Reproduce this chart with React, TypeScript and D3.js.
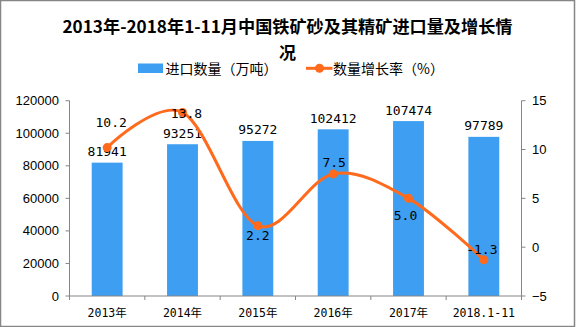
import React from "react";
import * as d3 from "d3";

const categories = ["2013年", "2014年", "2015年", "2016年", "2017年", "2018.1-11"];
const importVolume = [81941, 93251, 95272, 102412, 107474, 97789];
const growthRate = [10.2, 13.8, 2.2, 7.5, 5.0, -1.3];
const leftTicks = [0, 20000, 40000, 60000, 80000, 100000, 120000];
const rightTicks = [-5, 0, 5, 10, 15];
const titleLines = ["2013年-2018年1-11月中国铁矿砂及其精矿进口量及增长情", "况"];
const legendLabels = ["进口数量（万吨）", "数量增长率（%）"];
// label offsets (dx, dy) for rate labels, relative to their points
const rateLabelOffsets: [number, number][] = [[4, -25], [4, 1.5], [0, 10], [1, -11], [-3, 17], [-2, -10]];

const W = 576, H = 327;
const M = { left: 69.5, right: 521.5, top: 100.7, bottom: 296 };
const BAR = "#3E9EF1";
const LINE = "#FF6A1C";
const AXIS = "#868686";
const MONO = "'DejaVu Sans Mono', 'Noto Sans CJK SC', monospace";
const SANS = "'Liberation Sans', Arial, sans-serif";
const CJK = "'Noto Sans CJK SC', sans-serif";

export default function App() {
  const x = d3.scaleBand<string>().domain(categories).range([M.left, M.right]).paddingInner(0.59).paddingOuter(0.295);
  const xb = d3.scaleBand<string>().domain(categories).range([M.left, M.right]);
  const yL = d3.scaleLinear().domain([0, 120000]).range([M.bottom, M.top]);
  const yR = d3.scaleLinear().domain([-5, 15]).range([M.bottom, M.top]);
  const cx = (c: string) => (xb(c) as number) + xb.bandwidth() / 2;
  const pts: [number, number][] = categories.map((c, i) => [cx(c), yR(growthRate[i])]);
  const line = d3.line().curve(d3.curveCardinal.tension(0))(pts) || "";

  return (
    <div style={{ position: "absolute", left: 0, top: 0 }}>
      <style>{`body{margin:0}`}</style>
      <svg width={W} height={H} style={{ display: "block" }}>
        <rect x={0} y={0} width={W} height={H} fill="#fff" />
        <rect x={0.5} y={0.5} width={574} height={326} fill="none" stroke={AXIS} strokeWidth={1.5} />
        {/* title */}
        <text x={287.5} y={25.7} textAnchor="middle" dominantBaseline="central" textLength={450} lengthAdjust="spacingAndGlyphs"
          fontFamily={CJK} fontWeight="bold" fontSize={17} fill="#000">{titleLines[0]}</text>
        <text x={287.5} y={51.4} textAnchor="middle" dominantBaseline="central"
          fontFamily={CJK} fontWeight="bold" fontSize={17} fill="#000">{titleLines[1]}</text>
        {/* legend */}
        <rect x={138} y={63.5} width={25} height={9.5} fill={BAR} />
        <text x={165.5} y={68.3} dominantBaseline="central" fontFamily={CJK} fontSize={14} fill="#000">{legendLabels[0]}</text>
        <line x1={306} x2={332.5} y1={68.3} y2={68.3} stroke={LINE} strokeWidth={3} />
        <circle cx={319.5} cy={68.3} r={4.5} fill={LINE} />
        <text x={333} y={68.3} dominantBaseline="central" fontFamily={CJK} fontSize={14} fill="#000">{legendLabels[1]}</text>

        {/* bars */}
        {categories.map((c, i) => (
          <rect key={c} x={x(c)} y={yL(importVolume[i])} width={x.bandwidth()} height={M.bottom - yL(importVolume[i])} fill={BAR} />
        ))}
        {categories.map((c, i) => (
          <text key={c} x={(x(c) as number) + x.bandwidth() / 2} y={yL(importVolume[i]) - 11} textAnchor="middle"
            dominantBaseline="central" fontFamily={MONO} fontSize={13} fill="#000">{importVolume[i]}</text>
        ))}

        {/* axes */}
        <line x1={M.left} x2={M.left} y1={M.top} y2={M.bottom} stroke={AXIS} strokeWidth={1} />
        <line x1={M.right} x2={M.right} y1={M.top} y2={M.bottom} stroke={AXIS} strokeWidth={1} />
        <line x1={M.left} x2={M.right} y1={M.bottom} y2={M.bottom} stroke={AXIS} strokeWidth={1} />
        {leftTicks.map((t) => (
          <g key={t}>
            <line x1={M.left - 4} x2={M.left} y1={yL(t)} y2={yL(t)} stroke={AXIS} />
            <text x={59} y={yL(t)} textAnchor="end" dominantBaseline="central" fontFamily={SANS} fontSize={13} fill="#000">{t}</text>
          </g>
        ))}
        {rightTicks.map((t) => (
          <g key={t}>
            <line x1={M.right} x2={M.right + 4} y1={yR(t)} y2={yR(t)} stroke={AXIS} />
            <text x={532} y={yR(t)} textAnchor="start" dominantBaseline="central" fontFamily={SANS} fontSize={13} fill="#000">{t < 0 ? "\u2212" + Math.abs(t) : t}</text>
          </g>
        ))}
        {categories.map((c) => (
          <line key={c} x1={xb(c) as number} x2={xb(c) as number} y1={M.bottom} y2={M.bottom + 4} stroke={AXIS} />
        ))}
        <line x1={M.right} x2={M.right} y1={M.bottom} y2={M.bottom + 4} stroke={AXIS} />
        {categories.map((c) => (
          <text key={c} x={cx(c)} y={313} textAnchor="middle" dominantBaseline="central" fontFamily={MONO} fontSize={11.5} fill="#000">{c}</text>
        ))}

        {/* growth line */}
        <path d={line} fill="none" stroke={LINE} strokeWidth={3} strokeLinecap="round" />
        {pts.map((p, i) => (
          <circle key={i} cx={p[0]} cy={p[1]} r={4.5} fill={LINE} />
        ))}
        {pts.map((p, i) => (
          <text key={i} x={p[0] + rateLabelOffsets[i][0]} y={p[1] + rateLabelOffsets[i][1]} textAnchor="middle"
            dominantBaseline="central" fontFamily={MONO} fontSize={13} fill="#000">{growthRate[i].toFixed(1)}</text>
        ))}
      </svg>
    </div>
  );
}
